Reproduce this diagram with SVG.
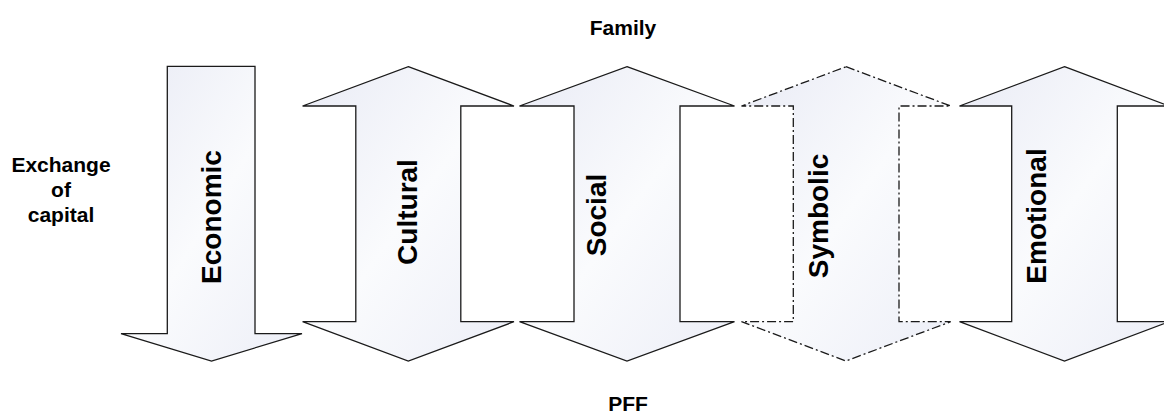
<svg xmlns="http://www.w3.org/2000/svg" width="1164" height="415" viewBox="0 0 1164 415">
<style>
.arrow{fill:url(#fillGrad);stroke:#1a1a1a;stroke-width:1.3;stroke-linejoin:miter}
.dashed{stroke-dasharray:9 3 2 3}
.lbl{font-family:"Liberation Sans",Arial,sans-serif;font-weight:bold;font-size:21px;fill:#000;text-anchor:middle}
.big{font-family:"Liberation Sans",Arial,sans-serif;font-weight:bold;font-size:28px;fill:#000;text-anchor:middle}
</style>
<defs>
<linearGradient id="fillGrad" x1="0" y1="0" x2="1" y2="1">
<stop offset="0" stop-color="#e9ebf5"/>
<stop offset="0.5" stop-color="#fafbfd"/>
<stop offset="1" stop-color="#eceef7"/>
</linearGradient>
</defs>
<rect width="1164" height="415" fill="#fff"/>
<g id="labels">
<text class="lbl" x="623" y="35">Family</text>
<text class="lbl" x="628" y="411">PFF</text>
<text class="lbl" x="61" y="172">Exchange</text>
<text class="lbl" x="61" y="197">of</text>
<text class="lbl" x="61" y="222">capital</text>
</g>
<g id="economic">
<polygon class="arrow" points="167.3,66.3 255,66.3 255,333.7 302,333.7 211.5,361 121,333.7 167.3,333.7"/>
<text class="big" transform="translate(211,217) rotate(-90)" y="10">Economic</text>
</g>
<g id="cultural">
<polygon class="arrow" points="408.3,66.7 514,106 460.8,106 460.8,321.7 514,321.7 408.3,361 302.6,321.7 355.8,321.7 355.8,106 302.6,106"/>
<text class="big" transform="translate(407,212) rotate(-90)" y="10">Cultural</text>
</g>
<g id="social">
<polygon class="arrow" points="627,66.7 734.5,106 680,106 680,321.7 734.5,321.7 627,361 519.5,321.7 574,321.7 574,106 519.5,106"/>
<text class="big" transform="translate(596,215) rotate(-90)" y="10">Social</text>
</g>
<g id="symbolic">
<polygon class="arrow dashed" points="846,66.7 950.7,106 899,106 899,321.7 950.7,321.7 846,361 741.5,321.7 793.3,321.7 793.3,106 741.5,106"/>
<text class="big" transform="translate(818,216) rotate(-90)" y="10">Symbolic</text>
</g>
<g id="emotional">
<polygon class="arrow" points="1064.5,66.7 1169,106 1117.3,106 1117.3,321.7 1169,321.7 1064.5,361 959.5,321.7 1011.7,321.7 1011.7,106 959.5,106"/>
<text class="big" transform="translate(1036,216) rotate(-90)" y="10">Emotional</text>
</g>
<g id="connectors"></g>
</svg>
